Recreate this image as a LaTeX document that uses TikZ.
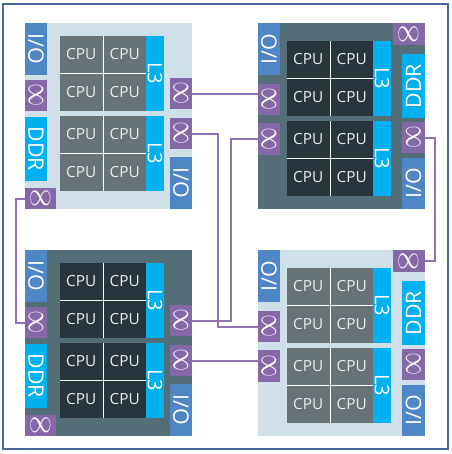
\documentclass[tikz,border=0pt]{standalone}
\usepackage{fontspec}
\setsansfont{Open Sans}
\usepackage{graphicx}
\usepackage{tikz}
\usetikzlibrary{positioning}
\definecolor{pkglight}{HTML}{CFE0E8}
\definecolor{pkgdark}{HTML}{546E78}
\definecolor{coregray}{HTML}{687377}
\definecolor{coredark}{HTML}{29353D}
\definecolor{cachec}{HTML}{00B0F0}
\definecolor{iocol}{HTML}{4F86C6}
\definecolor{linkc}{HTML}{8468A8}
\definecolor{wirec}{HTML}{8E72B4}
\definecolor{framec}{HTML}{46699C}
\newcommand{\infsym}{\scalebox{1.7}[2.5]{$\infty$}}

\begin{document}
\begin{tikzpicture}[x=0.75pt, y=-0.75pt, font=\sffamily,
  blk/.style 2 args={inner sep=0pt, outer sep=0pt, minimum width=#1*0.75pt,
    minimum height=#2*0.75pt, anchor=north west, text=white},
  io/.style={fill=iocol, font=\sffamily\fontsize{16}{16}\selectfont},
  ddr/.style={fill=cachec, font=\sffamily\fontsize{16}{16}\selectfont},
  lthree/.style={fill=cachec, font=\sffamily\fontsize{15}{15}\selectfont},
  link/.style={fill=linkc},
  core/.style={font=\sffamily\fontsize{11.5}{11.5}\selectfont, text=white!92!black},
  wire/.style={color=wirec, line width=1.5pt},
  frame/.style={color=framec, line width=1.9pt}]
\useasboundingbox (0,0) rectangle (452,454);
%%%%% Frame %%%%%
\draw[frame] (3,4) rectangle (448,449);
%%%%% Left packages %%%%%
\foreach \p/\py/\bg/\cc in {tl/23/pkglight/coregray, bl/250/pkgdark/coredark}{
\begin{scope}[shift={(25,\py)}]
\fill[fill=\bg] (0,0) rectangle (167,186);
\node[blk={22}{52}, io] (\p io1) at (0,0) {\rotatebox{-90}{I/O}};
\node[blk={22}{31}, link] (\p lk1) at (0,57) {\rotatebox{90}{\infsym}};
\node[blk={22}{64}, ddr] (\p ddr) at (0,94) {\rotatebox{-90}{DDR}};
\node[blk={31}{21}, link] (\p lk2) at (0,165) {\infsym};
\foreach \cy in {13,93}{
\fill[white] (35,\cy) rectangle (121,\cy+75);
\foreach \cx in {35,78.5}{
\foreach \dy in {0,38}{
\node[blk={42.5}{37}, core, fill=\cc] at (\cx,\cy+\dy) {CPU};
}}
\node[blk={18}{75}, lthree] at (121,\cy) {\rotatebox{-90}{L3}};
}
\node[blk={22}{31}, link] (\p lk3) at (145,55) {\rotatebox{90}{\infsym}};
\node[blk={22}{31}, link] (\p lk4) at (145,95) {\rotatebox{90}{\infsym}};
\node[blk={22}{52}, io] (\p io2) at (145,134) {\rotatebox{-90}{I/O}};
\end{scope}
}
%%%%% Right packages %%%%%
\foreach \p/\py/\bg/\cc in {tr/23/pkgdark/coredark, br/250/pkglight/coregray}{
\begin{scope}[shift={(258,\py)}]
\fill[fill=\bg] (0,0) rectangle (167,186);
\node[blk={22}{52}, io] (\p io1) at (0,0) {\rotatebox{90}{I/O}};
\node[blk={22}{31}, link] (\p lk1) at (0,61) {\rotatebox{90}{\infsym}};
\node[blk={22}{32}, link] (\p lk2) at (0,100) {\rotatebox{90}{\infsym}};
\foreach \cy in {18,98}{
\fill[white] (29,\cy) rectangle (115,\cy+75);
\foreach \cx in {29,72.5}{
\foreach \dy in {0,38}{
\node[blk={42.5}{37}, core, fill=\cc] at (\cx,\cy+\dy) {CPU};
}}
\node[blk={18}{75}, lthree] at (115,\cy) {\rotatebox{-90}{L3}};
}
\node[blk={32}{22}, link] (\p lk3) at (135,0) {\infsym};
\node[blk={23}{64}, ddr] (\p ddr) at (144,31) {\rotatebox{90}{DDR}};
\node[blk={23}{31}, link] (\p lk4) at (144,99) {\rotatebox{90}{\infsym}};
\node[blk={23}{51}, io] (\p io2) at (144,135) {\rotatebox{90}{I/O}};
\end{scope}
}
%%%%% Links %%%%%
\draw[wire] (tllk3.east) -- (tllk3.east -| trlk1.west);
\draw[wire] (tllk4.east) -- ++(26,0) |- (brlk1.west);
\draw[wire] (trlk2.west) -- ++(-27,0) |- (bllk3.east);
\draw[wire] (bllk4.east) -- (bllk4.east -| brlk2.west);
\draw[wire] (tllk2.west) -- ++(-9,0) |- (bllk1.west);
\draw[wire] (trlk4.east) -- ++(10,0) |- (brlk3.east);
\end{tikzpicture}
\end{document}
